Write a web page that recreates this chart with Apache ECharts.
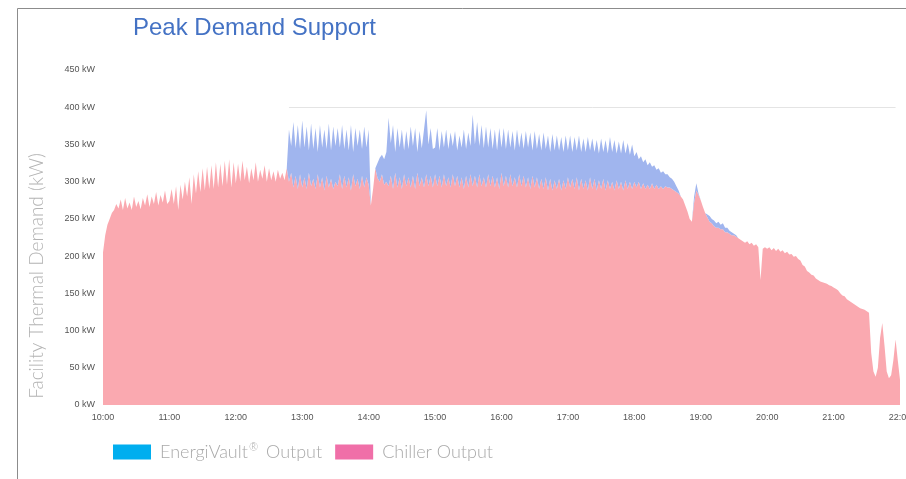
<!DOCTYPE html>
<html lang="en">
<head>
<meta charset="utf-8">
<title>Peak Demand Support</title>
<script src="https://cdn.jsdelivr.net/npm/echarts@6/dist/echarts.min.js"></script>
<style>
  html, body { margin: 0; padding: 0; background: #fff; }
  #main { width: 906px; height: 479px; }
</style>
</head>
<body>
<div id="main"></div>
<script>
// time slots every 2 minutes, 10:00 .. 22:00
var times = [];
for (var m = 0; m <= 720; m += 2) {
    var h = 10 + Math.floor(m / 60), mm = m % 60;
    times.push(h + ':' + (mm < 10 ? '0' : '') + mm);
}

// chiller output (kW), one row per hour
var chiller = [
    205,228,242,250,258,262,270,264,276,262,278,264,272,262,280,266,274,263,278,268,283,266,280,270,286,268,282,272,288,270,
    274,290,270,294,262,296,276,300,280,306,270,310,284,314,286,318,288,320,290,322,290,326,292,324,294,328,296,330,292,326,
    298,324,300,328,302,320,298,318,302,326,300,316,304,322,300,318,302,314,300,316,304,312,302,318,300,312,292,308,290,310,
    292,306,290,312,294,304,290,310,292,306,288,308,292,304,290,300,294,310,290,308,292,306,288,310,294,304,290,308,292,306,
    296,268,290,318,305,300,310,296,300,294,308,290,312,292,306,290,310,294,306,292,308,290,312,294,306,292,310,294,308,292,
    310,294,308,292,310,294,306,292,310,294,308,292,306,290,308,292,310,294,308,292,310,294,306,292,310,294,308,292,306,290,
    312,294,308,292,310,294,306,292,310,294,308,292,306,290,308,292,306,290,304,290,306,288,304,288,302,290,304,288,302,290,
    306,292,304,290,306,288,304,290,302,288,306,290,304,288,302,290,304,288,302,290,300,288,302,290,300,288,302,290,300,290,
    300,292,300,290,298,290,296,290,298,290,296,290,294,290,294,292,292,290,288,286,284,280,276,268,260,250,246,272,288,282,
    275,266,258,252,246,244,240,238,238,236,236,232,232,230,228,228,226,224,222,220,218,220,216,218,214,216,212,168,210,212,
    210,212,208,211,207,210,206,208,204,206,202,203,199,200,196,194,188,186,180,178,175,174,170,168,166,165,164,163,161,160,
    158,156,154,150,147,146,142,140,138,136,134,132,130,129,128,126,124,70,45,38,50,90,110,80,45,36,40,60,88,60,
    34
];

// EnergiVault output (kW), stacked on top of the chiller
var vault = [
    0,0,0,0,0,0,0,0,0,0,0,0,0,0,0,0,0,0,0,0,0,0,0,0,0,0,0,0,0,0,
    0,0,0,0,0,0,0,0,0,0,0,0,0,0,0,0,0,0,0,0,0,0,0,0,0,0,0,0,0,0,
    0,0,0,0,0,0,0,0,0,0,0,0,0,0,0,0,0,0,0,0,0,0,0,0,70,36,88,37,86,34,
    90,40,84,30,84,40,82,30,84,40,82,36,86,38,84,48,78,36,86,36,78,36,88,30,78,44,80,36,82,40,
    74,0,0,0,20,32,26,34,40,92,44,86,28,80,40,80,32,74,38,82,40,82,28,74,39,78,86,56,64,52,
    36,78,34,76,36,76,38,74,38,74,34,70,40,80,36,74,38,96,42,88,38,82,39,82,36,78,36,78,36,82,
    34,78,36,78,36,74,36,78,36,72,36,76,40,76,34,76,38,74,38,76,38,74,36,76,40,72,38,72,38,72,
    36,70,36,70,36,74,36,68,38,72,36,68,36,68,36,68,36,68,36,70,40,68,36,64,38,68,36,62,36,60,
    34,48,30,44,28,40,26,36,22,32,20,28,18,24,16,18,14,14,12,8,4,0,0,0,0,0,0,8,10,2,
    0,0,0,4,8,6,8,6,8,6,8,6,6,4,4,2,2,0,0,0,0,0,0,0,0,0,0,0,0,0,
    0,0,0,0,0,0,0,0,0,0,0,0,0,0,0,0,0,0,0,0,0,0,0,0,0,0,0,0,0,0,
    0,0,0,0,0,0,0,0,0,0,0,0,0,0,0,0,0,0,0,0,0,0,0,0,0,0,0,0,0,0,
    0
];

var limitKw = 400;
var limitFrom = '12:48';
var limitTo = '21:56';

var thinFont = 'Lato, "Open Sans", sans-serif';
var plainFont = '"Liberation Sans", Arial, sans-serif';

var myChart = echarts.init(document.getElementById('main'));

var option = {
    animation: false,
    backgroundColor: '#fff',
    title: {
        text: 'Peak Demand Support',
        left: 133,
        top: 16,
        padding: 0,
        textStyle: {
            color: '#4472c4',
            fontFamily: plainFont,
            fontWeight: 'normal',
            fontSize: 24
        }
    },
    legend: {
        left: 113,
        top: 442,
        padding: 0,
        itemWidth: 38,
        itemHeight: 15,
        itemGap: 13,
        icon: 'rect',
        formatter: function (name) {
            if (name.indexOf('®') > -1) {
                var parts = name.split('®');
                return '{a|' + parts[0] + '}{s|®}{a|' + parts[1] + '}';
            }
            return '{a|' + name + '}';
        },
        textStyle: {
            color: '#a9a9a9',
            fontFamily: thinFont,
            fontWeight: 300,
            fontSize: 18,
            padding: [0, 0, 0, 4],
            rich: {
                a: { color: '#a9a9a9', fontFamily: thinFont, fontWeight: 300, fontSize: 18 },
                s: { color: '#a9a9a9', fontFamily: thinFont, fontWeight: 300, fontSize: 11, padding: [0, 3, 9, 1] }
            }
        },
        data: [
            { name: 'EnergiVault® Output', itemStyle: { color: '#00aeef' } },
            { name: 'Chiller Output', itemStyle: { color: '#f06fa8' } }
        ]
    },
    grid: {
        left: 103,
        right: 6,
        top: 70,
        bottom: 74,
        containLabel: false,
        outerBoundsMode: 'none'
    },
    xAxis: {
        type: 'category',
        data: times,
        boundaryGap: false,
        axisLine: { show: false },
        axisTick: { show: false },
        axisLabel: {
            interval: 29,
            color: '#555',
            fontSize: 9,
            margin: 8,
            fontFamily: plainFont
        },
        splitLine: { show: false }
    },
    yAxis: {
        type: 'value',
        min: 0,
        max: 450,
        interval: 50,
        axisLine: { show: false },
        axisTick: { show: false },
        splitLine: { show: false },
        axisLabel: {
            formatter: '{value} kW',
            color: '#555',
            fontSize: 9,
            margin: 8,
            fontFamily: plainFont
        }
    },
    graphic: [
        {
            type: 'rect',
            silent: true,
            shape: { x: 17.5, y: 8.5, width: 1000, height: 1000 },
            style: { fill: 'none', stroke: '#8c8c8c', lineWidth: 1 }
        },
        {
            type: 'text',
            silent: true,
            x: 37,
            y: 276,
            rotation: Math.PI / 2,
            style: {
                text: 'Facility Thermal Demand (kW)',
                fill: '#b4b4b4',
                font: '300 19px ' + thinFont,
                align: 'center',
                verticalAlign: 'middle',
                textAlign: 'center',
                textVerticalAlign: 'middle'
            }
        }
    ],
    series: [
        {
            name: 'Chiller Output',
            type: 'line',
            stack: 'total',
            data: chiller,
            showSymbol: false,
            symbol: 'none',
            lineStyle: { width: 0 },
            itemStyle: { color: '#faa9b0' },
            areaStyle: { color: '#faa9b0', opacity: 1 }
        },
        {
            name: 'EnergiVault® Output',
            type: 'line',
            stack: 'total',
            data: vault,
            showSymbol: false,
            symbol: 'none',
            lineStyle: { width: 0 },
            itemStyle: { color: '#a0b5ee' },
            areaStyle: { color: '#a0b5ee', opacity: 1 },
            markLine: {
                silent: true,
                symbol: 'none',
                label: { show: false },
                lineStyle: { color: '#e4e4e4', type: 'solid', width: 1 },
                data: [[
                    { coord: [limitFrom, limitKw] },
                    { coord: [limitTo, limitKw] }
                ]]
            }
        }
    ]
};

myChart.setOption(option);
</script>
</body>
</html>
